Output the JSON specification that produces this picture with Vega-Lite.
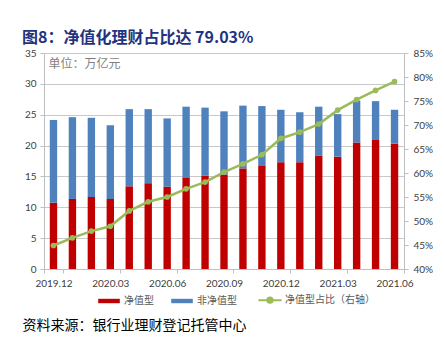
{
  "$schema": "https://vega.github.io/schema/vega-lite/v6.json",
  "width": 360,
  "height": 216,
  "autosize": {"type": "none"},
  "padding": {"left": 44, "top": 53, "right": 40, "bottom": 73},
  "background": "white",
  "title": {
    "text": "图8：净值化理财占比达 79.03%",
    "anchor": "start",
    "frame": "group",
    "dx": -22,
    "dy": 20,
    "offset": 6,
    "baseline": "bottom",
    "font": "Noto Sans CJK SC",
    "fontSize": 16,
    "fontWeight": "bold",
    "color": "#1F3480"
  },
  "config": {
    "view": {"stroke": null},
    "axis": {
      "labelFont": "Lato",
      "labelFontSize": 10,
      "labelColor": "#404040",
      "domainColor": "#BFBFBF",
      "tickColor": "#BFBFBF",
      "tickSize": 4,
      "gridColor": "#C8C8C8"
    }
  },
  "datasets": {
    "bars": [
      {"month": "2019.12", "type": "净值型", "value": 10.75},
      {"month": "2019.12", "type": "非净值型", "value": 13.4},
      {"month": "2020.01", "type": "净值型", "value": 11.35},
      {"month": "2020.01", "type": "非净值型", "value": 13.25},
      {"month": "2020.02", "type": "净值型", "value": 11.67},
      {"month": "2020.02", "type": "非净值型", "value": 12.83},
      {"month": "2020.03", "type": "净值型", "value": 11.35},
      {"month": "2020.03", "type": "非净值型", "value": 11.95},
      {"month": "2020.04", "type": "净值型", "value": 13.4},
      {"month": "2020.04", "type": "非净值型", "value": 12.5},
      {"month": "2020.05", "type": "净值型", "value": 13.9},
      {"month": "2020.05", "type": "非净值型", "value": 12.0},
      {"month": "2020.06", "type": "净值型", "value": 13.35},
      {"month": "2020.06", "type": "非净值型", "value": 11.05},
      {"month": "2020.07", "type": "净值型", "value": 14.86},
      {"month": "2020.07", "type": "非净值型", "value": 11.44},
      {"month": "2020.08", "type": "净值型", "value": 15.1},
      {"month": "2020.08", "type": "非净值型", "value": 11.05},
      {"month": "2020.09", "type": "净值型", "value": 15.3},
      {"month": "2020.09", "type": "非净值型", "value": 10.25},
      {"month": "2020.10", "type": "净值型", "value": 16.3},
      {"month": "2020.10", "type": "非净值型", "value": 10.17},
      {"month": "2020.11", "type": "净值型", "value": 16.8},
      {"month": "2020.11", "type": "非净值型", "value": 9.6},
      {"month": "2020.12", "type": "净值型", "value": 17.3},
      {"month": "2020.12", "type": "非净值型", "value": 8.5},
      {"month": "2021.01", "type": "净值型", "value": 17.3},
      {"month": "2021.01", "type": "非净值型", "value": 8.1},
      {"month": "2021.02", "type": "净值型", "value": 18.4},
      {"month": "2021.02", "type": "非净值型", "value": 7.9},
      {"month": "2021.03", "type": "净值型", "value": 18.2},
      {"month": "2021.03", "type": "非净值型", "value": 6.9},
      {"month": "2021.04", "type": "净值型", "value": 20.5},
      {"month": "2021.04", "type": "非净值型", "value": 6.8},
      {"month": "2021.05", "type": "净值型", "value": 20.9},
      {"month": "2021.05", "type": "非净值型", "value": 6.3},
      {"month": "2021.06", "type": "净值型", "value": 20.3},
      {"month": "2021.06", "type": "非净值型", "value": 5.5}
    ],
    "ratio": [
      {"month": "2019.12", "ratio": 0.449},
      {"month": "2020.01", "ratio": 0.465},
      {"month": "2020.02", "ratio": 0.479},
      {"month": "2020.03", "ratio": 0.489},
      {"month": "2020.04", "ratio": 0.521},
      {"month": "2020.05", "ratio": 0.540},
      {"month": "2020.06", "ratio": 0.550},
      {"month": "2020.07", "ratio": 0.567},
      {"month": "2020.08", "ratio": 0.581},
      {"month": "2020.09", "ratio": 0.602},
      {"month": "2020.10", "ratio": 0.619},
      {"month": "2020.11", "ratio": 0.638},
      {"month": "2020.12", "ratio": 0.672},
      {"month": "2021.01", "ratio": 0.685},
      {"month": "2021.02", "ratio": 0.702},
      {"month": "2021.03", "ratio": 0.731},
      {"month": "2021.04", "ratio": 0.753},
      {"month": "2021.05", "ratio": 0.772},
      {"month": "2021.06", "ratio": 0.7903}
    ]
  },
  "layer": [
    {
      "data": {"name": "bars"},
      "mark": {"type": "bar", "width": {"band": 0.39}},
      "encoding": {
        "x": {
          "field": "month",
          "type": "ordinal",
          "scale": {"paddingInner": 0, "paddingOuter": 0},
          "axis": {
            "values": ["2019.12", "2020.03", "2020.06", "2020.09", "2020.12", "2021.03", "2021.06"],
            "tickBand": "extent",
            "labelAngle": 0,
            "labelPadding": 5,
            "title": null,
            "grid": false
          }
        },
        "y": {
          "field": "value",
          "type": "quantitative",
          "stack": "zero",
          "scale": {"domain": [0, 35], "nice": false},
          "axis": {
            "values": [0, 5, 10, 15, 20, 25, 30, 35],
            "grid": true,
            "labelPadding": 4,
            "title": "单位：万亿元",
            "titleAngle": 0,
            "titleX": 4,
            "titleY": 10,
            "titleAlign": "left",
            "titleBaseline": "middle",
            "titleFont": "Noto Sans CJK SC",
            "titleFontSize": 12,
            "titleFontWeight": "normal",
            "titleColor": "#7F7F7F"
          }
        },
        "color": {
          "field": "type",
          "type": "nominal",
          "sort": ["净值型", "非净值型"],
          "scale": {
            "domain": ["净值型", "非净值型", "净值型占比（右轴）"],
            "range": ["#C00000", "#4F81BD", "#9BBB59"]
          },
          "legend": {
            "orient": "none",
            "legendX": 60,
            "legendY": 242,
            "direction": "horizontal",
            "title": null,
            "labelFont": "Noto Sans CJK SC",
            "labelFontSize": 10,
            "labelColor": "#595959",
            "symbolSize": 64,
            "labelOffset": 10,
            "columnPadding": 17,
            "encode": {
              "symbols": {
                "update": {
                  "shape": {"signal": "datum.value === '净值型占比（右轴）' ? 'M-2.9,0H2.9M0.65,0A0.65,0.65 0 1,1 -0.65,0A0.65,0.65 0 1,1 0.65,0Z' : 'M-2.7,-0.55H2.7V0.55H-2.7Z'"},
                  "fill": {"scale": "color", "field": "value"},
                  "stroke": {"scale": "color", "field": "value"},
                  "strokeWidth": {"signal": "datum.value === '净值型占比（右轴）' ? 2 : 0"},
                  "opacity": {"value": 1}
                }
              }
            }
          }
        },
        "order": {"field": "type", "sort": "ascending"}
      }
    },
    {
      "data": {"name": "ratio"},
      "mark": {"type": "line", "strokeWidth": 2.5},
      "encoding": {
        "x": {"field": "month", "type": "ordinal", "axis": null},
        "y": {
          "field": "ratio",
          "type": "quantitative",
          "scale": {"domain": [0.4, 0.85], "nice": false, "zero": false},
          "axis": {
            "orient": "right",
            "values": [0.4, 0.45, 0.5, 0.55, 0.6, 0.65, 0.7, 0.75, 0.8, 0.85],
            "format": ".0%",
            "grid": false,
            "labelPadding": 5,
            "title": null
          }
        },
        "color": {"datum": "净值型占比（右轴）"}
      }
    },
    {
      "data": {"name": "ratio"},
      "mark": {"type": "point", "filled": true, "size": 32, "opacity": 1},
      "encoding": {
        "x": {
          "field": "month",
          "type": "ordinal",
          "scale": {"type": "point", "padding": 0.5},
          "axis": {
            "orient": "bottom",
            "offset": 44,
            "labels": false,
            "ticks": false,
            "domain": false,
            "grid": false,
            "title": "资料来源：银行业理财登记托管中心",
            "titleAnchor": "start",
            "titleAlign": "left",
            "titleX": -22,
            "titleY": 12,
            "titleBaseline": "middle",
            "titleFont": "Noto Sans CJK SC",
            "titleFontSize": 14,
            "titleFontWeight": "normal",
            "titleColor": "#000000"
          }
        },
        "y": {
          "field": "ratio",
          "type": "quantitative",
          "scale": {"domain": [0.4, 0.85], "nice": false, "zero": false},
          "axis": {
            "orient": "left",
            "values": [0.3083, 0.8875],
            "labels": false,
            "ticks": false,
            "domain": false,
            "title": null,
            "grid": true,
            "gridColor": "#A6A6A6",
            "gridWidth": 1.5
          }
        },
        "color": {"datum": "净值型占比（右轴）"}
      }
    }
  ],
  "resolve": {
    "scale": {"x": "independent", "y": "independent"},
    "axis": {"x": "independent", "y": "independent"}
  }
}
